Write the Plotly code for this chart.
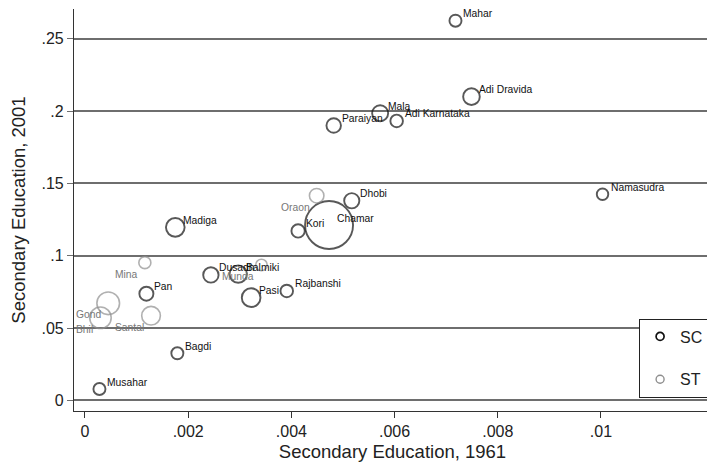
import plotly.graph_objects as go

# ---- data ----
sc_names = ["Mahar", "Adi Dravida", "Mala", "Adi Karnataka", "Paraiyan", "Namasudra",
            "Dhobi", "Chamar", "Kori", "Madiga", "Dusadh", "Balmiki", "Pan", "Pasi",
            "Rajbanshi", "Bagdi", "Musahar"]
sc_edu_1961 = [0.00718, 0.00749, 0.00572, 0.00604, 0.00482, 0.01003,
               0.00517, 0.00473, 0.00413, 0.00175, 0.00244, 0.00297, 0.00119, 0.00322,
               0.00391, 0.00179, 0.00028]
sc_edu_2001 = [0.2625, 0.210, 0.1985, 0.1932, 0.190, 0.1425,
               0.138, 0.1212, 0.1171, 0.1196, 0.0867, 0.0873, 0.0737, 0.0710,
               0.0756, 0.0325, 0.0078]
sc_pop = [2.2, 4.2, 3.9, 2.4, 3.2, 2.0,
          3.5, 35.0, 2.7, 5.3, 3.6, 4.6, 3.0, 5.3,
          2.4, 2.2, 2.2]

st_names = ["Oraon", "Mina", "Munda", "Gond", "Bhil", "Santal"]
st_edu_1961 = [0.00449, 0.00116, 0.00342, 0.00045, 0.00030, 0.00128]
st_edu_2001 = [0.1415, 0.0952, 0.0936, 0.0671, 0.0571, 0.0585]
st_pop = [3.2, 2.2, 2.0, 7.8, 7.0, 5.3]

x_ticks = [0, 0.002, 0.004, 0.006, 0.008, 0.01]
x_tick_labels = ["0", ".002", ".004", ".006", ".008", ".01"]
y_ticks = [0, 0.05, 0.1, 0.15, 0.2, 0.25]
y_tick_labels = ["0", ".05", ".1", ".15", ".2", ".25"]

FONT = "Liberation Sans, Arial, Helvetica, sans-serif"
SC_COLOR = "#111111"
ST_COLOR = "#8e8e8e"
ST_TEXT = "#777777"
SIZEREF = 0.0304

fig = go.Figure()

fig.add_trace(go.Scatter(
    x=sc_edu_1961, y=sc_edu_2001, mode="markers", showlegend=False,
    marker=dict(size=sc_pop, sizemode="area", sizeref=SIZEREF, symbol="circle-open",
                color=SC_COLOR, line=dict(width=1.9, color=SC_COLOR)),
    hovertext=sc_names,
))
fig.add_trace(go.Scatter(
    x=st_edu_1961, y=st_edu_2001, mode="markers", showlegend=False,
    marker=dict(size=st_pop, sizemode="area", sizeref=SIZEREF, symbol="circle-open",
                color=ST_COLOR, line=dict(width=1.6, color=ST_COLOR)),
    hovertext=st_names,
))
# legend entries
fig.add_trace(go.Scatter(x=[None], y=[None], mode="markers", name="SC", legendgroup="SC",
                         marker=dict(size=8, symbol="circle-open", color=SC_COLOR,
                                     line=dict(width=1.7, color=SC_COLOR))))
fig.add_trace(go.Scatter(x=[None], y=[None], mode="markers", name="ST", legendgroup="ST",
                         marker=dict(size=8, symbol="circle-open", color=ST_COLOR,
                                     line=dict(width=1.4, color=ST_COLOR))))

annotations = []
for n, x, y in zip(sc_names, sc_edu_1961, sc_edu_2001):
    annotations.append(dict(x=x, y=y, xref="x", yref="y", text=n, showarrow=False,
                            xanchor="left", yanchor="middle", xshift=6, yshift=7,
                            font=dict(family=FONT, size=10.3, color=SC_COLOR)))
for n, x, y in zip(st_names, st_edu_1961, st_edu_2001):
    annotations.append(dict(x=x, y=y, xref="x", yref="y", text=n, showarrow=False,
                            xanchor="right", yanchor="middle", xshift=-5, yshift=-11.5,
                            font=dict(family=FONT, size=10.3, color=ST_TEXT)))

# page body has an 8px margin, so the figure is 8px smaller and shifted
fig.update_layout(
    width=707, height=457,
    margin=dict(l=66, r=4, t=1, b=54),
    paper_bgcolor="white", plot_bgcolor="white",
    font=dict(family=FONT, size=16, color="#222"),
    annotations=annotations,
    legend=dict(x=0.997, y=0.23, xanchor="right", yanchor="top",
                bgcolor="white", bordercolor="#222", borderwidth=1,
                font=dict(family=FONT, size=16, color="#222"),
                tracegroupgap=19, itemwidth=30),
    xaxis=dict(range=[-0.000213, 0.012132], tickvals=x_ticks, ticktext=x_tick_labels,
               showgrid=False, zeroline=False, showline=True, linecolor="#333",
               linewidth=1.2, ticks="outside", ticklen=6, tickcolor="#333", tickwidth=1.2,
               tickfont=dict(size=16),
               title=dict(text="Secondary Education, 1961", font=dict(size=18.5), standoff=5)),
    yaxis=dict(range=[-0.0074, 0.2706], tickvals=y_ticks, ticktext=y_tick_labels,
               showgrid=True, gridcolor="#6e6e6e", gridwidth=1.5, zeroline=False,
               showline=True, linecolor="#333", linewidth=1.2,
               ticks="outside", ticklen=6, tickcolor="#6e6e6e", tickwidth=1.2,
               tickfont=dict(size=16),
               title=dict(text="Secondary Education, 2001", font=dict(size=18.5), standoff=10)),
)

fig.write_html("out.html")
